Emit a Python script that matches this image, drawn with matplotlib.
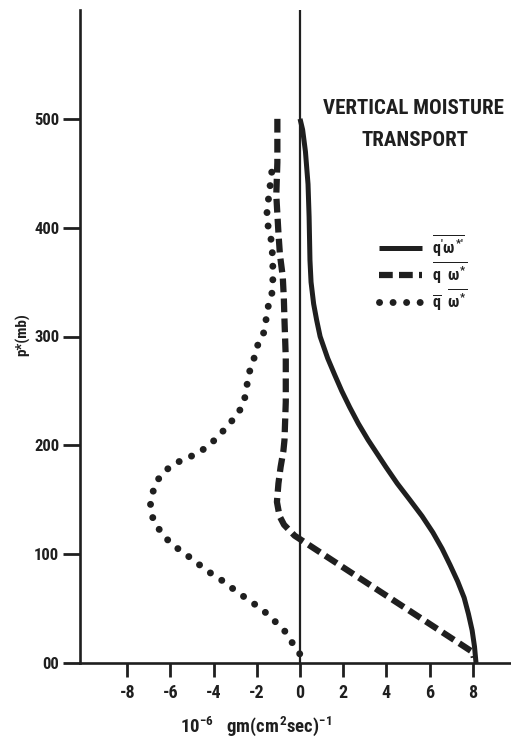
import matplotlib
matplotlib.use("Agg")
import matplotlib.pyplot as plt
from matplotlib import font_manager

# Pick a condensed bold face for the lettering
_names = {f.name for f in font_manager.fontManager.ttflist}
for cand in ["Liberation Sans Narrow", "Roboto Condensed", "Open Sans Condensed", "DejaVu Sans"]:
    if cand in _names:
        FAM = cand
        break
else:
    FAM = "DejaVu Sans"

plt.rcParams["font.family"] = [FAM, "DejaVu Sans"]
plt.rcParams["font.weight"] = "bold"
plt.rcParams["mathtext.fontset"] = "custom"
plt.rcParams["mathtext.rm"] = f"{FAM}:bold"
plt.rcParams["mathtext.bf"] = f"{FAM}:bold"
plt.rcParams["mathtext.it"] = f"{FAM}:bold"

INK = "#1f1f1f"

# Eddy transport  q'w*'
p_eddy = [500, 490, 470, 440, 410, 390, 370, 350, 330, 315, 300, 280, 265, 250, 235, 220, 205, 180, 165,
          150, 135, 120, 105, 90, 75, 60, 45, 30, 15, 0]
v_eddy = [0.0, 0.12, 0.25, 0.37, 0.42, 0.44, 0.46, 0.51, 0.63, 0.77, 0.93, 1.28, 1.6, 1.93, 2.3, 2.7, 3.15,
          3.98, 4.5, 5.08, 5.65, 6.15, 6.58, 6.95, 7.3, 7.6, 7.8, 7.97, 8.08, 8.15]

# Total transport  (q w*)bar
p_total = [500, 460, 430, 395, 375, 355, 335, 315, 280, 240, 205, 195, 180, 165, 148, 135, 127, 117, 10, 5]
v_total = [-1.05, -1.05, -1.1, -1.0, -0.93, -0.8, -0.75, -0.72, -0.66, -0.66, -0.72, -0.77, -0.9, -1.0,
           -1.07, -0.95, -0.74, -0.25, 8.0, 8.05]

# Mean-motion transport  qbar * w*bar
p_mean = [451, 438, 425, 412, 400, 389, 376, 364, 352, 340, 328, 316, 304, 292, 280, 267, 254, 240, 228,
          219, 208, 199, 192, 187, 180, 169, 157, 144, 131, 119, 109, 101, 92, 83, 75, 66, 58, 49, 39,
          30, 17, 8]
v_mean = [-1.31, -1.39, -1.47, -1.54, -1.47, -1.34, -1.28, -1.26, -1.26, -1.3, -1.47, -1.57, -1.67, -1.96,
          -2.13, -2.35, -2.47, -2.59, -2.9, -3.32, -3.78, -4.29, -4.78, -5.43, -6.05, -6.56, -6.82, -6.94,
          -6.79, -6.4, -5.94, -5.36, -4.78, -4.17, -3.55, -2.96, -2.39, -1.74, -1.2, -0.73, -0.31, 0.0]

x_ticks = [-8, -6, -4, -2, 0, 2, 4, 6, 8]
x_ticklabels = ["-8", "-6", "-4", "-2", "0", "2", "4", "6", "8"]
y_ticks = [0, 100, 200, 300, 400, 500]
y_ticklabels = ["00", "100", "200", "300", "400", "500"]

W, H = 511, 737
fig = plt.figure(figsize=(W / 100, H / 100), dpi=100)
ax = fig.add_axes([80 / W, 74 / H, (W - 80) / W, (663 - 10) / H])
ax.set_xlim(-10.19, 9.77)
ax.set_ylim(0, 600)

for s in ["top", "right"]:
    ax.spines[s].set_visible(False)
for s in ["left", "bottom"]:
    ax.spines[s].set_linewidth(1.9)
    ax.spines[s].set_color(INK)

ax.axvline(0, color=INK, lw=1.6, zorder=1)

ax.plot(v_eddy, p_eddy, color=INK, lw=3.6, solid_capstyle="butt", solid_joinstyle="round",
        label=r"$\overline{q'\omega^{*\prime}}$", zorder=3)
ax.plot(v_total, p_total, color=INK, lw=4.5, linestyle=(0, (2.2, 1.0)), dash_capstyle="butt",
        label=r"$\overline{q\ \ \omega^{*}}$", zorder=3)
ax.plot(v_mean, p_mean, color=INK, lw=5.0, linestyle=(0, (0.01, 1.94)), dash_capstyle="round",
        label=r"$\overline{q}\ \ \overline{\omega^{*}}$", zorder=3)

ax.set_xticks(x_ticks)
ax.set_xticklabels(x_ticklabels)
ax.set_yticks(y_ticks)
ax.set_yticklabels(y_ticklabels)
ax.tick_params(axis="x", direction="out", length=10, width=2, color=INK, labelsize=13,
               labelcolor=INK, pad=5)
ax.tick_params(axis="y", direction="out", length=12, width=2, color=INK, labelsize=12,
               labelcolor=INK, pad=3)

fig.text(256 / W, 1 - 726 / H, r"$10^{-6}\ \ \ gm(cm^{2}sec)^{-1}$", ha="center", va="center",
         fontsize=13.5, color=INK)
fig.text(23 / W, 1 - 335 / H, "p*(mb)", rotation=90, ha="center", va="center",
         fontsize=11, color=INK, fontweight="bold")

fig.text(413 / W, 1 - 109 / H, "VERTICAL MOISTURE", ha="center", va="center",
         fontsize=15, color=INK, fontweight="bold")
fig.text(415 / W, 1 - 140 / H, "TRANSPORT", ha="center", va="center",
         fontsize=15, color=INK, fontweight="bold")

leg = ax.legend(loc="upper left", bbox_to_anchor=((379 - 80) / (W - 80), (663 - 233) / 653),
                frameon=False, fontsize=11.5, handlelength=2.7, handletextpad=0.6,
                labelspacing=0.08, borderpad=0, borderaxespad=0)
for t in leg.get_texts():
    t.set_color(INK)

fig.savefig("out.png", dpi=100, facecolor="white")
